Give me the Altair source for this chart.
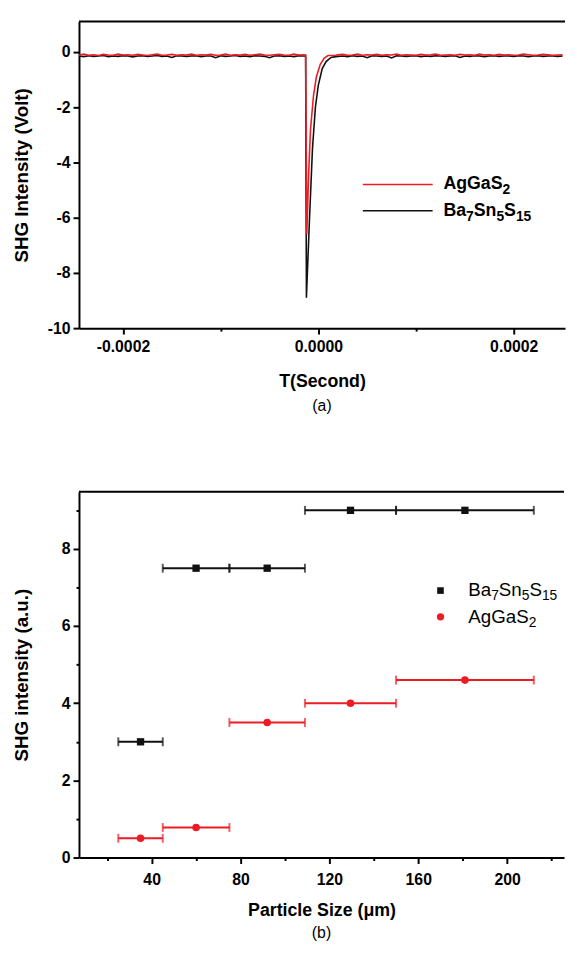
import altair as alt
import pandas as pd

FONT = "Liberation Sans"
RED = "#ec1c24"
BLACK = "#111111"

# ---------------- Panel (a): SHG signal vs time ----------------
# times in microseconds
t_left_us = [-245, -240, -235, -230, -225, -220, -215, -210, -205, -200, -195, -190,
             -185, -180, -175, -170, -165, -160, -155, -150, -145, -140, -135, -130,
             -125, -120, -115, -110, -105, -100, -95, -90, -85, -80, -75, -70, -65,
             -60, -55, -50, -45, -40, -35, -30, -25, -20, -15]
black_left = [-0.15, -0.17, -0.14, -0.16, -0.15, -0.13, -0.17, -0.15, -0.16, -0.14, -0.15, -0.18,
              -0.15, -0.14, -0.16, -0.15, -0.13, -0.16, -0.15, -0.20, -0.14, -0.15, -0.16, -0.15,
              -0.14, -0.17, -0.15, -0.15, -0.21, -0.14, -0.16, -0.15, -0.13, -0.16, -0.15, -0.17,
              -0.14, -0.15, -0.16, -0.21, -0.15, -0.14, -0.16, -0.15, -0.17, -0.14, -0.15]
red_left = [-0.11, -0.08, -0.12, -0.10, -0.13, -0.09, -0.11, -0.12, -0.08, -0.11, -0.10, -0.12,
            -0.09, -0.11, -0.13, -0.10, -0.08, -0.12, -0.11, -0.09, -0.12, -0.10, -0.11, -0.08,
            -0.12, -0.10, -0.11, -0.09, -0.12, -0.11, -0.08, -0.12, -0.10, -0.11, -0.09, -0.12,
            -0.10, -0.08, -0.11, -0.12, -0.10, -0.09, -0.11, -0.12, -0.08, -0.11, -0.10]

t_spike_black_us = [-13.0, -12.2, -9.0, -6.0, -3.0, 0.0, 4.0, 8.0, 13.0]
black_spike = [-0.15, -8.9, -6.0, -3.5, -2.0, -1.2, -0.6, -0.35, -0.2]
t_spike_red_us = [-13.0, -11.8, -10.0, -8.0, -5.0, -2.0, 2.0, 6.0, 10.0]
red_spike = [-0.11, -6.6, -4.5, -2.8, -1.6, -0.9, -0.45, -0.22, -0.13]

t_right_us = [18, 20, 25, 30, 35, 40, 45, 50, 55, 60, 65, 70, 75, 80, 85, 90, 95, 100,
              105, 110, 115, 120, 125, 130, 135, 140, 145, 150, 155, 160, 165, 170, 175,
              180, 185, 190, 195, 200, 205, 210, 215, 220, 225, 230, 235, 240, 245, 250]
black_right = [-0.17, -0.16, -0.15, -0.17, -0.14, -0.16, -0.15, -0.21, -0.14, -0.15, -0.16, -0.15,
               -0.22, -0.14, -0.15, -0.16, -0.15, -0.14, -0.17, -0.15, -0.16, -0.14, -0.15, -0.16,
               -0.15, -0.14, -0.20, -0.15, -0.16, -0.14, -0.15, -0.17, -0.15, -0.14, -0.16, -0.15,
               -0.15, -0.16, -0.14, -0.15, -0.17, -0.15, -0.14, -0.16, -0.15, -0.15, -0.16, -0.15]
red_right = [-0.12, -0.10, -0.09, -0.12, -0.11, -0.08, -0.12, -0.10, -0.11, -0.09, -0.12, -0.10,
             -0.11, -0.08, -0.12, -0.10, -0.11, -0.12, -0.09, -0.11, -0.10, -0.08, -0.12, -0.11,
             -0.10, -0.12, -0.09, -0.11, -0.10, -0.12, -0.08, -0.11, -0.10, -0.12, -0.09, -0.11,
             -0.10, -0.12, -0.11, -0.08, -0.10, -0.12, -0.11, -0.09, -0.10, -0.12, -0.11, -0.10]

T_MIN, T_MAX = -0.000245, 0.0002525
V_MIN, V_MAX = -10.0, 1.1

rows = []
for t, v in zip(t_left_us + t_spike_black_us + t_right_us, black_left + black_spike + black_right):
    rows.append({"t": t * 1e-6, "v": v, "s": "Ba7Sn5S15"})
for t, v in zip(t_left_us + t_spike_red_us + t_right_us, red_left + red_spike + red_right):
    rows.append({"t": t * 1e-6, "v": v, "s": "AgGaS2"})
trace_df = pd.DataFrame(rows)

xa = alt.Scale(domain=[T_MIN, T_MAX], nice=False, zero=False)
ya = alt.Scale(domain=[V_MIN, V_MAX], nice=False, zero=False)

minor_x_a = "abs(round(datum.value*10000)) % 2 == 1"
minor_y_a = "abs(round(datum.value)) % 2 == 1"

TICK_FS = 16
XT_FS = 18
YT_FS = 19

x_axis_a = alt.Axis(
    title="T(Second)", values=[-0.0002, -0.0001, 0.0, 0.0001, 0.0002], format=".4f",
    labelExpr=f"{minor_x_a} ? '' : replace(datum.label, '\u2212', '-')",
    tickSize={"condition": {"test": minor_x_a, "value": 3}, "value": 6},
    grid=False, domainColor="black", domainWidth=2, tickColor="black", tickWidth=2,
    labelFont=FONT, labelFontSize=TICK_FS, labelFontWeight="bold", labelColor="black", labelPadding=5,
    titleFont=FONT, titleFontSize=XT_FS, titleFontWeight="bold", titleColor="black", titlePadding=18,
)
y_axis_a = alt.Axis(
    title="SHG Intensity (Volt)", values=list(range(-10, 1)),
    labelExpr=f"{minor_y_a} ? '' : replace(datum.label, '\u2212', '-')",
    tickSize={"condition": {"test": minor_y_a, "value": 3}, "value": 6},
    grid=False, domainColor="black", domainWidth=2, tickColor="black", tickWidth=2,
    labelFont=FONT, labelFontSize=TICK_FS, labelFontWeight="bold", labelColor="black", labelPadding=3,
    titleFont=FONT, titleFontSize=YT_FS, titleFontWeight="bold", titleColor="black", titlePadding=14,
    minExtent=34, maxExtent=34,
)

lines_a = alt.Chart(trace_df).mark_line(strokeWidth=1.6, clip=True).encode(
    x=alt.X("t:Q", scale=xa, axis=x_axis_a),
    y=alt.Y("v:Q", scale=ya, axis=y_axis_a),
    color=alt.Color("s:N", scale=alt.Scale(domain=["Ba7Sn5S15", "AgGaS2"], range=[BLACK, RED]), legend=None),
    order=alt.Order("t:Q"),
    detail="s:N",
)

top_border_a = alt.Chart(pd.DataFrame({"x": [T_MIN], "x2": [T_MAX], "y": [V_MAX]})).mark_rule(
    color="black", strokeWidth=2).encode(x="x:Q", x2="x2:Q", y="y:Q")

# legend of panel (a)
leg_a = pd.DataFrame({
    "x": [0.0000455, 0.0000455], "x2": [0.000117, 0.000117], "y": [-4.8, -5.75],
    "c": [RED, BLACK],
})
leg_lines_a = alt.Chart(leg_a).mark_rule(strokeWidth=1.6).encode(
    x="x:Q", x2="x2:Q", y="y:Q", color=alt.Color("c:N", scale=None))

BOLD_W = {"A": 722, "B": 722, "G": 778, "S": 667, "a": 556, "g": 611, "n": 611,
          "0": 556, "1": 556, "2": 556, "5": 556, "7": 556}
REG_W = {"A": 667, "B": 667, "G": 778, "S": 667, "a": 556, "g": 556, "n": 556,
         "0": 556, "1": 556, "2": 556, "5": 556, "7": 556}


def rich_label(x, y, pieces, size, sub_size, weight, widths, sub_dy):
    layers = []
    offset = 0.0
    df = pd.DataFrame({"x": [x], "y": [y]})
    for text, is_sub in pieces:
        fs = sub_size if is_sub else size
        layers.append(alt.Chart(df).mark_text(
            text=text, align="left", baseline="middle", font=FONT, fontSize=fs,
            fontWeight=weight, color="black", dx=offset, dy=sub_dy if is_sub else 0,
        ).encode(x="x:Q", y="y:Q"))
        offset += sum(widths[ch] for ch in text) * fs / 1000.0
    return layers


ag_pieces = [("AgGaS", False), ("2", True)]
ba_pieces = [("Ba", False), ("7", True), ("Sn", False), ("5", True), ("S", False), ("15", True)]

leg_text_a = rich_label(0.000128, -4.8, ag_pieces, 18, 14, "bold", BOLD_W, 6) + \
    rich_label(0.000128, -5.75, ba_pieces, 18, 14, "bold", BOLD_W, 6)

panel_a = alt.layer(lines_a, top_border_a, leg_lines_a, *leg_text_a).properties(
    width=493, height=311,
    title=alt.TitleParams("(a)", orient="bottom", anchor="middle", frame="group", font=FONT,
                          fontSize=16, fontWeight="normal", color="black", offset=8),
)

# ---------------- Panel (b): SHG intensity vs particle size ----------------
size_center = [35, 60, 92, 129.5, 181]
size_low = [25, 45, 75, 109, 150]
size_high = [45, 75, 109, 150, 212]
ba_intensity = [3.0, 7.5, 7.5, 9.0, 9.0]
ag_intensity = [0.5, 0.78, 3.5, 4.0, 4.6]

P_MIN, P_MAX = 7.3, 225.6
I_MIN, I_MAX = 0.0, 9.48

ps_df = pd.DataFrame({
    "c": size_center * 2, "lo": size_low * 2, "hi": size_high * 2,
    "v": ba_intensity + ag_intensity,
    "s": ["Ba7Sn5S15"] * 5 + ["AgGaS2"] * 5,
})

xb = alt.Scale(domain=[P_MIN, P_MAX], nice=False, zero=False)
yb = alt.Scale(domain=[I_MIN, I_MAX], nice=False, zero=False)

minor_x_b = "round(datum.value) % 40 != 0"
minor_y_b = "round(datum.value) % 2 == 1"

x_axis_b = alt.Axis(
    title="Particle Size (\u03bcm)", values=[20, 40, 60, 80, 100, 120, 140, 160, 180, 200, 220],
    labelExpr=f"{minor_x_b} ? '' : datum.label",
    tickSize={"condition": {"test": minor_x_b, "value": 3}, "value": 6},
    grid=False, domainColor="black", domainWidth=2, tickColor="black", tickWidth=2,
    labelFont=FONT, labelFontSize=TICK_FS, labelFontWeight="bold", labelColor="black", labelPadding=8,
    titleFont=FONT, titleFontSize=XT_FS, titleFontWeight="bold", titleColor="black", titlePadding=15,
)
y_axis_b = alt.Axis(
    title="SHG intensity (a.u.)", values=list(range(0, 10)),
    labelExpr=f"{minor_y_b} ? '' : datum.label",
    tickSize={"condition": {"test": minor_y_b, "value": 3}, "value": 6},
    grid=False, domainColor="black", domainWidth=2, tickColor="black", tickWidth=2,
    labelFont=FONT, labelFontSize=TICK_FS, labelFontWeight="bold", labelColor="black", labelPadding=3,
    titleFont=FONT, titleFontSize=YT_FS, titleFontWeight="bold", titleColor="black", titlePadding=14,
    minExtent=34, maxExtent=34,
)

col_scale = alt.Scale(domain=["Ba7Sn5S15", "AgGaS2"], range=[BLACK, RED])

bars_b = alt.Chart(ps_df).mark_errorbar(ticks=True, size=9, thickness=2).encode(
    x=alt.X("lo:Q", scale=xb, axis=x_axis_b),
    x2="hi:Q",
    y=alt.Y("v:Q", scale=yb, axis=y_axis_b),
    color=alt.Color("s:N", scale=col_scale, legend=None),
)
sq_b = alt.Chart(ps_df[ps_df.s == "Ba7Sn5S15"]).mark_point(
    shape="square", filled=True, size=55, opacity=1, color=BLACK).encode(x="c:Q", y="v:Q")
dot_b = alt.Chart(ps_df[ps_df.s == "AgGaS2"]).mark_point(
    shape="circle", filled=True, size=60, opacity=1, color=RED).encode(x="c:Q", y="v:Q")

top_border_b = alt.Chart(pd.DataFrame({"x": [P_MIN], "x2": [P_MAX], "y": [I_MAX]})).mark_rule(
    color="black", strokeWidth=2).encode(x="x:Q", x2="x2:Q", y="y:Q")

leg_sq = alt.Chart(pd.DataFrame({"x": [170.0], "y": [6.92]})).mark_point(
    shape="square", filled=True, size=45, opacity=1, color=BLACK).encode(x="x:Q", y="y:Q")
leg_dot = alt.Chart(pd.DataFrame({"x": [170.0], "y": [6.24]})).mark_point(
    shape="circle", filled=True, size=55, opacity=1, color=RED).encode(x="x:Q", y="y:Q")
leg_text_b = rich_label(182.5, 6.92, ba_pieces, 19, 14, "normal", REG_W, 6) + \
    rich_label(182.5, 6.24, ag_pieces, 19, 14, "normal", REG_W, 6)

panel_b = alt.layer(bars_b, sq_b, dot_b, top_border_b, leg_sq, leg_dot, *leg_text_b).properties(
    width=492, height=371,
    title=alt.TitleParams("(b)", orient="bottom", anchor="middle", frame="group", font=FONT,
                          fontSize=16, fontWeight="normal", color="black", offset=6),
)

chart = alt.vconcat(panel_a, panel_b, spacing=78).properties(
    padding={"left": 5, "top": 6, "right": 0, "bottom": 0}
).configure_view(stroke=None)

chart.save("out.html", embed_options={"renderer": "svg", "actions": False})
